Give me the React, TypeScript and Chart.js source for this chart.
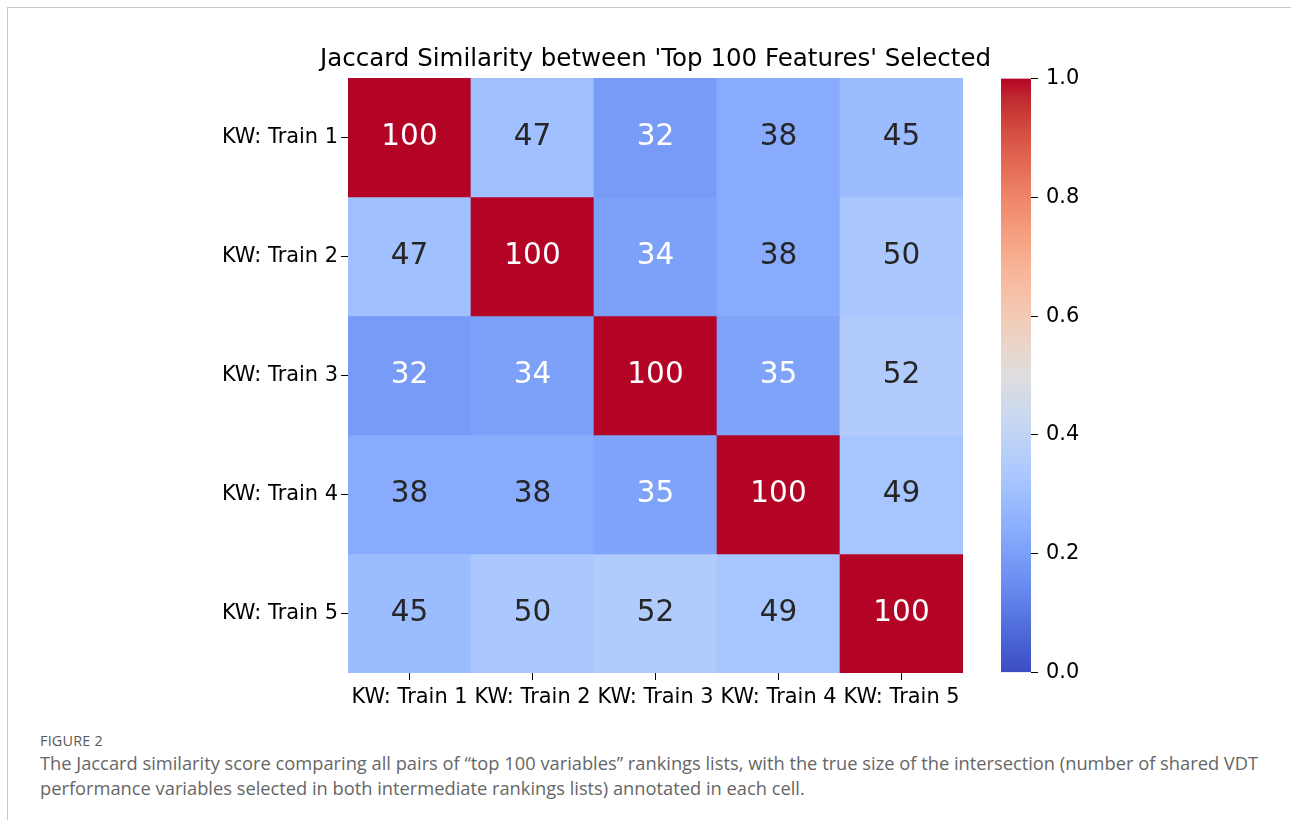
import React, { useEffect, useRef } from "react";
import { Chart, registerables } from "chart.js";

Chart.register(...registerables);

// ---------- data ----------
const rowLabels = ["KW: Train 1", "KW: Train 2", "KW: Train 3", "KW: Train 4", "KW: Train 5"];
const colLabels = ["KW: Train 1", "KW: Train 2", "KW: Train 3", "KW: Train 4", "KW: Train 5"];
const row1 = [100, 47, 32, 38, 45];
const row2 = [47, 100, 34, 38, 50];
const row3 = [32, 34, 100, 35, 52];
const row4 = [38, 38, 35, 100, 49];
const row5 = [45, 50, 52, 49, 100];
const intersections = [row1, row2, row3, row4, row5];
const listSize = 100;
const colorbarTicks = [0, 0.2, 0.4, 0.6, 0.8, 1.0];
const titleText = "Jaccard Similarity between 'Top 100 Features' Selected";

// coolwarm colormap control points
const coolwarm: [number, number, number, number][] = [
  [0.0, 59, 76, 192], [0.03125, 68, 90, 204], [0.0625, 77, 104, 215], [0.09375, 87, 117, 225],
  [0.125, 98, 130, 234], [0.15625, 108, 142, 241], [0.1875, 119, 154, 247], [0.21875, 130, 165, 251],
  [0.25, 141, 176, 254], [0.28125, 152, 185, 255], [0.3125, 163, 194, 255], [0.34375, 174, 201, 253],
  [0.375, 184, 208, 249], [0.40625, 194, 213, 244], [0.4375, 204, 217, 238], [0.46875, 213, 219, 230],
  [0.5, 221, 221, 221], [0.53125, 229, 216, 209], [0.5625, 236, 211, 197], [0.59375, 241, 204, 184],
  [0.625, 245, 196, 173], [0.65625, 247, 187, 160], [0.6875, 247, 177, 148], [0.71875, 247, 166, 135],
  [0.75, 244, 154, 123], [0.78125, 241, 141, 111], [0.8125, 236, 127, 99], [0.84375, 229, 112, 88],
  [0.875, 222, 96, 77], [0.90625, 213, 80, 66], [0.9375, 203, 62, 56], [0.96875, 192, 40, 47],
  [1.0, 180, 4, 38],
];

function cmapRGB(t: number): [number, number, number] {
  const v = Math.max(0, Math.min(1, t));
  for (let k = 0; k < coolwarm.length - 1; k++) {
    const a = coolwarm[k], b = coolwarm[k + 1];
    if (v >= a[0] && v <= b[0]) {
      const f = (v - a[0]) / (b[0] - a[0] || 1);
      return [a[1] + (b[1] - a[1]) * f, a[2] + (b[2] - a[2]) * f, a[3] + (b[3] - a[3]) * f];
    }
  }
  const l = coolwarm[coolwarm.length - 1];
  return [l[1], l[2], l[3]];
}
const rgbStr = (c: [number, number, number]) =>
  `rgb(${Math.round(c[0])},${Math.round(c[1])},${Math.round(c[2])})`;

function jaccard(n: number) {
  return n / (2 * listSize - n);
}
function luminance(c: [number, number, number]) {
  const lin = (x: number) => {
    const s = x / 255;
    return s <= 0.03928 ? s / 12.92 : Math.pow((s + 0.055) / 1.055, 2.4);
  };
  return 0.2126 * lin(c[0]) + 0.7152 * lin(c[1]) + 0.0722 * lin(c[2]);
}

const FONT = "'DejaVu Sans', sans-serif";
const TICK_SIZE = 20.9;

export default function App() {
  const mainRef = useRef<HTMLCanvasElement | null>(null);
  const cbRef = useRef<HTMLCanvasElement | null>(null);

  useEffect(() => {
    if (!mainRef.current || !cbRef.current) return;

    const datasets = intersections.map((row, i) => ({
      label: rowLabels[i],
      data: row.map(() => [i, i + 1] as [number, number]),
      backgroundColor: row.map((n) => rgbStr(cmapRGB(jaccard(n)))),
      borderWidth: 0,
      grouped: false,
      barPercentage: 1,
      categoryPercentage: 1,
    }));

    const annotate = {
      id: "annotate",
      afterDatasetsDraw(chart: any) {
        const ctx = chart.ctx;
        ctx.save();
        ctx.font = `29.5px ${FONT}`;
        ctx.textAlign = "center";
        ctx.textBaseline = "middle";
        intersections.forEach((row, i) => {
          const meta = chart.getDatasetMeta(i);
          row.forEach((n, j) => {
            const el = meta.data[j];
            if (!el) return;
            const p = el.getCenterPoint();
            const lum = luminance(cmapRGB(jaccard(n)));
            ctx.fillStyle = lum > 0.395 ? "#262626" : "#ffffff";
            ctx.fillText(String(n), p.x, p.y);
          });
        });
        ctx.restore();
      },
    };

    const main = new Chart(mainRef.current, {
      type: "bar",
      data: { labels: colLabels, datasets: datasets as any },
      options: {
        animation: false,
        responsive: false,
        maintainAspectRatio: false,
        layout: { padding: 0 },
        plugins: {
          legend: { display: false },
          tooltip: { enabled: false },
          title: {
            display: true,
            text: titleText,
            fullSize: true,
            color: "#000",
            font: { family: FONT, size: 24.5, weight: "normal" as any, lineHeight: 1.2 },
            padding: { top: 14.5, bottom: 4.1 },
          },
        },
        scales: {
          x: {
            type: "category",
            offset: true,
            grid: { display: true, drawOnChartArea: false, drawTicks: true, tickLength: 7, tickColor: "#000", tickWidth: 1, offset: false },
            border: { display: false },
            ticks: { color: "#000", font: { family: FONT, size: TICK_SIZE }, padding: 5, maxRotation: 0, autoSkip: false },
            afterFit: (s: any) => { s.height = 60; },
          },
          y: {
            type: "linear",
            min: 0,
            max: rowLabels.length,
            reverse: true,
            afterBuildTicks: (s: any) => { s.ticks = rowLabels.map((_, i) => ({ value: i + 0.5 })); },
            grid: { display: true, drawOnChartArea: false, drawTicks: true, tickLength: 7, tickColor: "#000", tickWidth: 1 },
            border: { display: false },
            ticks: {
              color: "#000",
              font: { family: FONT, size: TICK_SIZE },
              padding: 3,
              autoSkip: false,
              callback: (v: any) => rowLabels[Math.floor(Number(v))] ?? "",
            },
            afterFit: (s: any) => { s.width = 148; },
          },
          // empty spacer axis so the title is centred over the heatmap
          spacer: {
            type: "linear",
            position: "right",
            min: 0,
            max: 1,
            grid: { display: false },
            border: { display: false },
            ticks: { display: false },
            afterFit: (s: any) => { s.width = 148; },
          },
        },
      },
      plugins: [annotate],
    });

    const cb = new Chart(cbRef.current, {
      type: "bar",
      data: {
        labels: [""],
        datasets: [
          {
            data: [[colorbarTicks[0], colorbarTicks[colorbarTicks.length - 1]]] as any,
            borderWidth: 0,
            barPercentage: 1,
            categoryPercentage: 1,
            backgroundColor: (c: any) => {
              const chart = c.chart;
              const area = chart.chartArea;
              if (!area) return "#888";
              const ys = chart.scales.y;
              const y0 = ys.getPixelForValue(0);
              const y1 = ys.getPixelForValue(1);
              const g = chart.ctx.createLinearGradient(0, y0, 0, y1);
              coolwarm.forEach((p) => g.addColorStop(p[0], `rgb(${p[1]},${p[2]},${p[3]})`));
              return g;
            },
          },
        ],
      },
      options: {
        animation: false,
        responsive: false,
        maintainAspectRatio: false,
        layout: { padding: { top: 20, bottom: 20, left: 0, right: 0 } },
        plugins: { legend: { display: false }, tooltip: { enabled: false } },
        scales: {
          x: { display: false },
          y: {
            position: "right",
            min: 0,
            max: 1,
            afterBuildTicks: (s: any) => { s.ticks = colorbarTicks.map((v) => ({ value: v })); },
            grid: { display: true, drawOnChartArea: false, drawTicks: true, tickLength: 7, tickColor: "#000", tickWidth: 1 },
            border: { display: false },
            ticks: {
              color: "#000",
              font: { family: FONT, size: TICK_SIZE },
              padding: 8,
              callback: (v: any) => Number(v).toFixed(1),
            },
            afterFit: (s: any) => { s.width = 80; },
          },
        },
      },
    });

    return () => {
      main.destroy();
      cb.destroy();
    };
  }, []);

  return (
    <div style={{ position: "absolute", left: 0, top: 0, width: 1291, height: 820, background: "#fff", overflow: "hidden" }}>
      <div style={{ position: "absolute", left: 7, top: 7, width: 1284, height: 1, background: "#c8c8c8" }} />
      <div style={{ position: "absolute", left: 7, top: 7, width: 1, height: 813, background: "#c8c8c8" }} />
      <canvas
        ref={mainRef}
        width={911}
        height={703}
        style={{ position: "absolute", left: 200, top: 30, width: 911, height: 703 }}
      />
      <canvas
        ref={cbRef}
        width={110}
        height={635}
        style={{ position: "absolute", left: 1001, top: 58, width: 110, height: 635 }}
      />
      <div
        style={{
          position: "absolute",
          left: 40,
          top: 731,
          fontFamily: "'Open Sans', sans-serif",
          fontSize: 14.4,
          color: "#5a5a5a",
          letterSpacing: 0.2,
        }}
      >
        FIGURE 2
      </div>
      <div
        style={{
          position: "absolute",
          left: 40,
          top: 750,
          fontFamily: "'Open Sans', sans-serif",
          fontSize: 18.3,
          lineHeight: "25px",
          color: "#666",
          whiteSpace: "nowrap",
        }}
      >
        The Jaccard similarity score comparing all pairs of “top 100 variables” rankings lists, with the true size of the intersection (number of shared VDT
        <br />
        performance variables selected in both intermediate rankings lists) annotated in each cell.
      </div>
    </div>
  );
}
